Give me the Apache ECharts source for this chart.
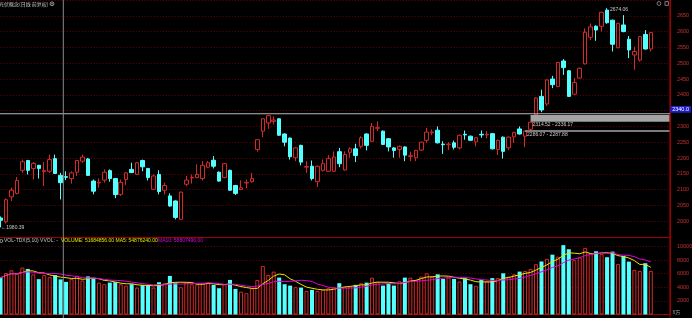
<!DOCTYPE html>
<html><head><meta charset="utf-8">
<script src="https://cdn.jsdelivr.net/npm/echarts@6/dist/echarts.min.js"></script>
<style>html,body{margin:0;padding:0;background:#000;}#c{width:692px;height:318px;}</style>
</head><body><div id="c"></div><script>
// ---- data ----
const opens = [2010,1998,2077,2088,2161,2192,2167,2177,2157,2158,2198,2145,2141,2135,2155,2190,2197,2127,2121,2130,
2160,2135,2085,2132,2164,2148,2192,2167,2101,2148,2098,2080,2064,2006,2117,2137,2138,2135,2171,2193,
2155,2138,2161,2113,2100,2121,2125,2227,2285,2311,2316,2324,2276,2263,2201,2240,2171,2174,2125,2161,
2158,2158,2220,2162,2218,2229,2237,2276,2253,2294,2285,2261,2232,2227,2235,2205,2201,2225,2256,2280,
2288,2244,2242,2248,2232,2275,2269,2251,2275,2273,2277,2227,2266,2232,2267,2292,2269,2291,2337,2395,
2371,2450,2426,2507,2476,2402,2453,2498,2582,2617,2617,2668,2636,2549,2621,2576,2526,2510,2591,2545];
const closes = [2003,2068,2098,2129,2188,2161,2183,2167,2160,2195,2151,2122,2139,2153,2192,2203,2145,2095,2123,2155,
2135,2084,2123,2153,2154,2185,2172,2138,2143,2094,2113,2048,2012,2092,2130,2139,2148,2177,2185,2174,
2127,2182,2098,2088,2106,2123,2135,2258,2324,2334,2320,2272,2250,2204,2232,2187,2173,2135,2174,2182,
2198,2203,2182,2211,2229,2208,2264,2240,2300,2296,2243,2235,2224,2237,2209,2207,2224,2250,2282,2282,
2248,2242,2244,2234,2272,2273,2256,2264,2273,2275,2229,2256,2221,2266,2281,2276,2285,2313,2390,2352,
2447,2432,2502,2486,2395,2439,2484,2598,2615,2605,2661,2628,2560,2626,2600,2542,2537,2584,2545,2597];
const lows = [1980.39,1993,2064,2085,2153,2148,2132,2135,2111,2153,2150,2069,2130,2119,2143,2185,2143,2085,2106,2122,
2125,2073,2080,2115,2152,2146,2158,2129,2099,2085,2085,2046,2006,2004,2111,2119,2136,2129,2168,2167,
2125,2136,2096,2083,2099,2104,2122,2220,2266,2292,2306,2270,2237,2195,2190,2177,2153,2129,2108,2157,
2156,2156,2171,2160,2201,2187,2230,2224,2250,2285,2241,2221,2201,2201,2190,2190,2190,2223,2248,2272,
2246,2213,2225,2227,2227,2258,2254,2237,2264,2262,2227,2209,2198,2225,2248,2274,2234,2287.88,2336.17,2345,
2365,2421,2424,2463,2393,2400,2451,2496,2573,2571,2600,2625,2537,2547,2598,2516,2479,2505,2543,2537];
const highs = [2015,2072,2106,2140,2195,2194,2187,2178,2187,2211,2211,2153,2158,2158,2194,2211,2200,2132,2135,2164,
2164,2137,2132,2155,2185,2187,2195,2168,2148,2161,2122,2088,2066,2094,2143,2148,2180,2190,2190,2206,
2158,2184,2163,2115,2129,2132,2153,2260,2326,2336,2332,2326,2278,2265,2234,2242,2190,2192,2176,2195,
2209,2221,2232,2221,2234,2245,2269,2278,2311,2316,2287,2263,2234,2240,2237,2220,2226,2252,2295,2290,
2300,2253,2250,2255,2274,2287,2271,2266,2287,2285,2279,2258,2268,2268,2283,2300,2286.07,2314.52,2392,2416,
2449,2460,2504,2513,2478,2453,2486,2610,2626,2620,2663,2674.06,2638,2628,2652,2586,2552,2586,2605,2599];
// volume in units of 10k (axis unit)
const volumes = [5400,6100,6500,6000,6900,6700,5900,5200,5800,5500,5800,5168,4800,5200,5700,5000,5600,5300,4700,4456,
4691,4750,4456,4250,4456,3956,4353,4353,3956,4750,4603,5676,4691,4015,4691,4456,4456,4603,4691,4353,
3868,4456,5088,3765,3368,3132,3868,5088,7147,5824,6309,5426,4456,4250,4015,3956,3471,3618,3471,3618,
3868,4015,4603,4103,4103,4353,4603,4691,5426,4750,4250,4603,4250,4897,5426,5426,5088,5573,6059,5573,
5912,5235,5426,5235,4853,5353,4456,4220,5088,4853,5353,5353,6059,5573,5912,6309,6400,6700,7392,7800,
8200,8800,8500,10200,9600,8000,8400,9800,9000,9300,8900,8426,9250,7441,8618,7779,6559,6412,7544,6412];
const priceTickLabels = ['2000','2050','2100','2150','2200','2250','2300','2350','2400','2450','2500','2550','2600','2650'];
const volTickLabels = ['2000','4000','6000','8000','10000'];
const gaps = [{from:2314.52, to:2336.17, startIndex:97}, {from:2286.07, to:2287.88, startIndex:96}];
const crossPrice = 2340.0;
const crossIndex = 11;
const titleText = '光伏概念(日线 前复权)';
const volLegend = {name:'VOL-TDX(5,10) VVOL: -', vol:'VOLUME: 51684856.00', ma5:'MA5: 54876240.00', ma10:'MA10: 58807496.00'};
const lowMark = {index:0, value:1980.39};
const highMark = {index:111, value:2674.06};

// ---- build ----
const N = opens.length, PAD = 3;
const categories = [];
for (let i = 0; i < N + PAD; i++) categories.push('D' + (i + 1));
const kData = opens.map((o, i) => [o, closes[i], lows[i], highs[i]]);
function ma(n) {
  return volumes.map((v, i) => {
    const s = Math.max(0, i - n + 1); let sum = 0;
    for (let j = s; j <= i; j++) sum += volumes[j];
    return +(sum / (i - s + 1)).toFixed(1);
  });
}
const RED = '#d42a2a', CYAN = '#54ffff', AXIS = '#a00000', GRIDC = '#700000', LBL = '#c83030';
const FONT = '"Liberation Sans", Arial, sans-serif';
const volData = volumes.map((v, i) => {
  const up = closes[i] >= opens[i];
  return {value: v, itemStyle: up ? {color: '#000', borderColor: RED, borderWidth: 1} : {color: CYAN, borderWidth: 0}};
});

const chart = echarts.init(document.getElementById('c'), null, {renderer: 'canvas'});
const gridL = -2.23, gridR = 22.1;
chart.setOption({
  backgroundColor: '#000',
  animation: false,
  grid: [
    {left: gridL, right: gridR, top: 0, height: 237, outerBoundsMode: 'none', containLabel: false},
    {left: gridL, right: gridR, top: 237, height: 77.5, outerBoundsMode: 'none', containLabel: false}
  ],
  xAxis: [
    {type: 'category', gridIndex: 0, data: categories, boundaryGap: true,
     axisLine: {show: true, lineStyle: {color: AXIS}}, axisTick: {show: false}, axisLabel: {show: false}, splitLine: {show: false}},
    {type: 'category', gridIndex: 1, data: categories, boundaryGap: true,
     axisLine: {show: true, lineStyle: {color: AXIS}}, axisTick: {show: false}, axisLabel: {show: false}, splitLine: {show: false}}
  ],
  yAxis: [
    {type: 'value', gridIndex: 0, position: 'right', min: 1950, max: 2700, interval: 50,
     axisLine: {show: true, lineStyle: {color: AXIS}}, axisTick: {show: false},
     axisLabel: {color: LBL, fontSize: 5.5, fontFamily: FONT, margin: 7,
       formatter: v => priceTickLabels.indexOf(String(v)) >= 0 ? String(v) : ''},
     splitLine: {show: true, lineStyle: {color: GRIDC, type: [1, 2], width: 1}}},
    {type: 'value', gridIndex: 1, position: 'right', min: 0, max: 11400, interval: 2000,
     axisLine: {show: true, lineStyle: {color: AXIS}}, axisTick: {show: false},
     axisLabel: {color: LBL, fontSize: 5.5, fontFamily: FONT, margin: 7,
       formatter: v => volTickLabels.indexOf(String(v)) >= 0 ? String(v) : ''},
     splitLine: {show: true, lineStyle: {color: GRIDC, type: [1, 2], width: 1}}}
  ],
  series: [
    {type: 'candlestick', xAxisIndex: 0, yAxisIndex: 0, data: kData, barWidth: 4,
     itemStyle: {color: '#000', color0: CYAN, borderColor: RED, borderColor0: CYAN, borderWidth: 1},
     emphasis: {disabled: true}},
    {type: 'bar', xAxisIndex: 1, yAxisIndex: 1, data: volData, barWidth: 4, emphasis: {disabled: true}},
    {type: 'line', xAxisIndex: 1, yAxisIndex: 1, data: ma(5), showSymbol: false, symbol: 'none',
     lineStyle: {color: '#e6e600', width: 1}, emphasis: {disabled: true}},
    {type: 'line', xAxisIndex: 1, yAxisIndex: 1, data: ma(10), showSymbol: false, symbol: 'none',
     lineStyle: {color: '#e000e0', width: 1}, emphasis: {disabled: true}}
  ]
});

// ---- overlays positioned through the axes ----
const P = (i, v) => chart.convertToPixel({gridIndex: 0}, [categories[i], v]);
const band = P(1, 2000)[0] - P(0, 2000)[0];
const xRight = P(N + PAD - 1, 2000)[0] + band / 2;
const g = [];
const txt = (text, x, y, fill, size, family, align) => ({type: 'text', z: 100,
  style: {text, x, y, fill, fontSize: size, fontFamily: family || FONT, verticalAlign: 'middle', align: align || 'left'}});
gaps.forEach(gp => {
  const x0 = P(gp.startIndex, gp.to)[0];
  const yTop = P(0, gp.to)[1], yBot = P(0, gp.from)[1];
  const h = Math.max(yBot - yTop, 1.5);
  g.push({type: 'rect', z: 90, shape: {x: x0, y: yTop, width: xRight - x0, height: h}, style: {fill: '#a4a4a4'}});
  g.push(txt(gp.from.toFixed(2) + ' - ' + gp.to.toFixed(2), x0 + 2, yTop + h + 2.6, '#c8c8c8', 5));
});
// crosshair
const yc = P(0, crossPrice)[1];
g.push({type: 'line', z: 95, shape: {x1: 0, y1: yc, x2: xRight, y2: yc}, style: {stroke: '#b8b8b8', lineWidth: 1}});
const xc = P(crossIndex, crossPrice)[0] + 2.7;
g.push({type: 'line', z: 95, shape: {x1: xc, y1: 0, x2: xc, y2: 318}, style: {stroke: '#8a8a8a', lineWidth: 1}});
g.push({type: 'rect', z: 96, shape: {x: xRight + 0.5, y: yc - 7.8, width: 20.5, height: 6.8}, style: {fill: '#1e1ec8'}});
g.push(txt(crossPrice.toFixed(1), xRight + 10.7, yc - 4.4, '#ffffff', 5.5, FONT, 'center'));
// low / high markers
const lp = P(lowMark.index, lowMark.value);
g.push(txt('←' + lowMark.value.toFixed(2), lp[0] + 0.8, lp[1], '#c8c8c8', 5));
const hp = P(highMark.index, highMark.value);
g.push(txt('←' + highMark.value.toFixed(2), hp[0] - 2, hp[1] + 1.5, '#c8c8c8', 5));
// title and legend
g.push(txt(titleText, -1, 3.8, '#c4c4c4', 5, '"Noto Sans CJK SC", sans-serif'));
g.push({type: 'circle', z: 100, shape: {cx: 52, cy: 3.8, r: 1.9}, style: {fill: 'none', stroke: '#bbbbbb', lineWidth: 0.8}});
g.push({type: 'circle', z: 100, shape: {cx: 52, cy: 3.8, r: 0.7}, style: {fill: '#bbbbbb'}});
g.push({type: 'circle', z: 100, shape: {cx: 1.3, cy: 241, r: 1.5}, style: {fill: 'none', stroke: '#bbbbbb', lineWidth: 0.8}});
g.push(txt(volLegend.name, 4, 241, '#c4c4c4', 5));
g.push(txt(volLegend.vol + ' ' + volLegend.ma5, 61, 241, '#e6e600', 5));
g.push(txt(volLegend.ma10, 158, 241, '#e000e0', 5));
// top-right icons
g.push({type: 'circle', z: 100, shape: {cx: 659, cy: 3.5, r: 1.9}, style: {fill: 'none', stroke: '#9a9a9a', lineWidth: 0.8}});
g.push({type: 'rect', z: 100, shape: {x: 665, y: 1.6, width: 3.4, height: 3.8}, style: {fill: 'none', stroke: '#9a9a9a', lineWidth: 0.8}});
// unit label & axis extension
g.push({type: 'line', z: 90, shape: {x1: xRight, y1: 0, x2: xRight, y2: 318}, style: {stroke: AXIS, lineWidth: 1}});
g.push(txt('X万', 672.5, 311.8, '#a0a0a0', 5, '"Noto Sans CJK SC", sans-serif'));
chart.setOption({graphic: g});
</script></body></html>
